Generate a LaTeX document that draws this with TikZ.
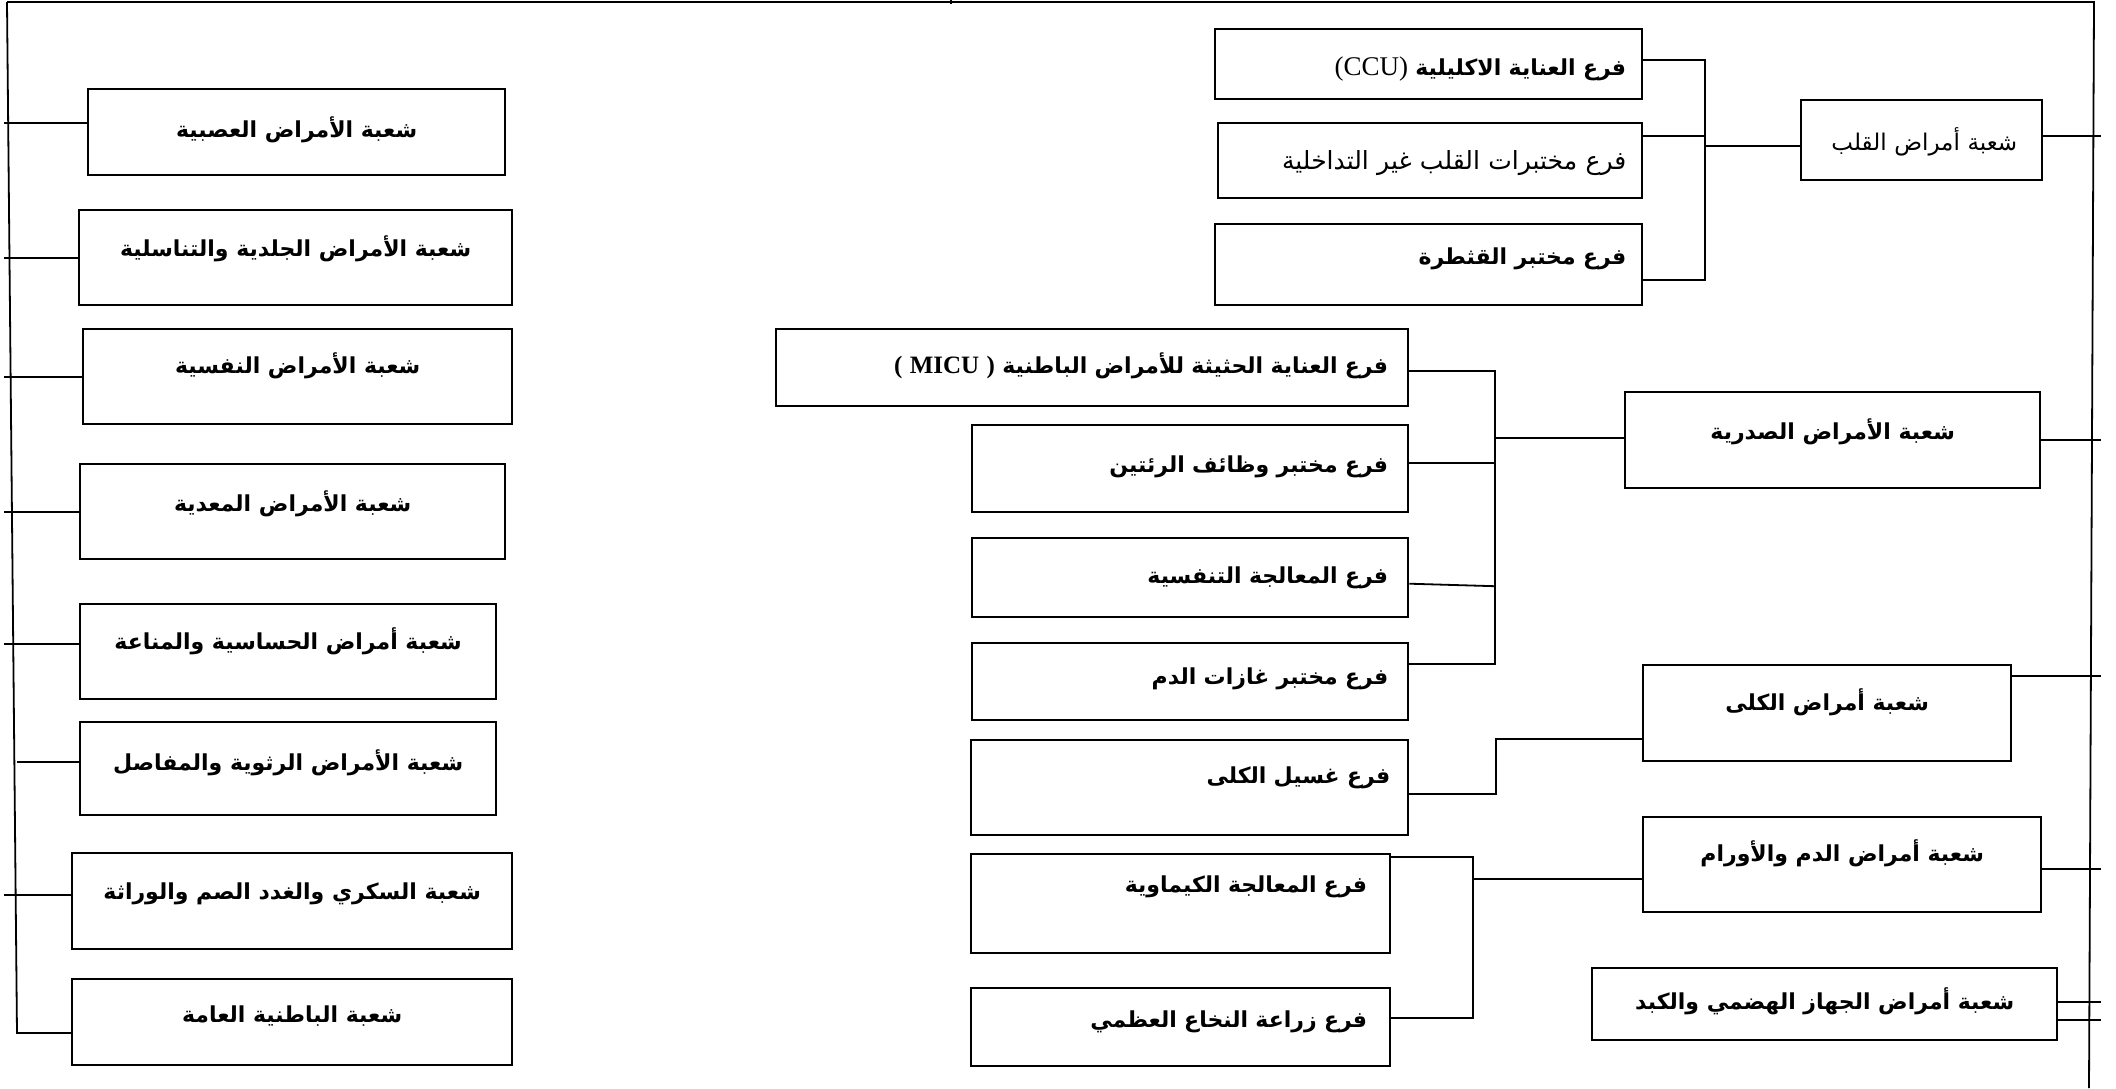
\documentclass[tikz,border=0pt]{standalone}
\usepackage{fontspec}
\usetikzlibrary{arrows.meta,calc,positioning}
\TeXXeTstate=1
\newfontfamily\arb[Script=Arabic]{DejaVu Sans}
\newfontfamily\lat{Liberation Serif}
\newcommand\boxsize{\fontsize{11}{13}\selectfont}
\tikzset {
  >=Stealth,
  every node/.style={font=\arb\boxsize},
  box/.style={draw, line width=1.2pt, anchor=north west, inner sep=0pt,
    font=\arb\bfseries\boxsize, text height=9pt, text depth=9pt},
  thin text/.style={font=\arb\fontsize{#1}{14}\selectfont},
  sz/.style 2 args={minimum width=#1*0.5pt, minimum height=#2*0.5pt},
  tpos/.style 2 args={text height=#1, text depth=#2},
  link/.style={line width=0.9pt},
}

\begin{document}
\begin{tikzpicture}[x=0.5pt,y=-0.5pt]
  \useasboundingbox (0,0) rectangle (2116,1088);

  % outer frame
  \coordinate (tl) at (7,2);
  \coordinate (tr) at (2094,2);
  \coordinate (bl) at (17,1033);
  \coordinate (br) at (2089,1088);
  \coordinate (lx) at (4,0);
  \coordinate (rx) at (2101,0);

  % left column
  \node[box,sz={417}{86},tpos={9pt}{4pt}] (nerv) at (87,88) {\beginR شعبة الأمراض العصبية\endR};
  \node[box,sz={433}{95},tpos={9pt}{10pt}] (derm) at (78,209) {\beginR شعبة الأمراض الجلدية والتناسلية\endR};
  \node[box,sz={429}{95},tpos={9pt}{12pt}] (psy) at (82,328) {\beginR شعبة الأمراض النفسية\endR};
  \node[box,sz={425}{95}] (infe) at (79,463) {\beginR شعبة الأمراض المعدية\endR};
  \node[box,sz={416}{95},tpos={9pt}{11pt}] (alle) at (79,603) {\beginR شعبة أمراض الحساسية والمناعة\endR};
  \node[box,sz={416}{93},tpos={9pt}{7pt}] (rheu) at (79,721) {\beginR شعبة الأمراض الرثوية والمفاصل\endR};
  \node[box,sz={440}{96},tpos={9pt}{11pt}] (endo) at (71,852) {\beginR شعبة السكري والغدد الصم والوراثة\endR};
  \node[box,sz={440}{86}] (gen) at (71,978) {\beginR شعبة الباطنية العامة\endR};

  % heart
  \node[box,sz={427}{70},tpos={11pt}{0pt},align=right,text width=197.5pt] (ccu) at (1214,28)
    {\beginR فرع العناية الاكليلية \beginL{\lat\mdseries\fontsize{13.5}{14}\selectfont (CCU)}\endL\endR};
  \node[box,thin text=12.5,sz={424}{75},tpos={9pt}{0pt},align=right,text width=196pt] (noninv) at (1217,122)
    {\beginR فرع مختبرات القلب غير التداخلية\endR};
  \node[box,sz={427}{81},tpos={9pt}{9pt},align=right,text width=197.5pt] (cath) at (1214,223)
    {\beginR فرع مختبر القثطرة\endR};
  \node[box,thin text=11.5,sz={241}{80},tpos={10pt}{0pt},align=right,text width=95.5pt] (heart) at (1800,99)
    {\beginR شعبة أمراض القلب\endR};

  % chest
  \node[box,sz={632}{77},tpos={9pt}{3pt},align=right,text width=296pt] (micu) at (775,328)
    {\beginR فرع العناية الحثيثة للأمراض الباطنية \beginL{\lat\bfseries\fontsize{12.5}{14}\selectfont ( MICU )}\endL\endR};
  \node[box,sz={436}{87},tpos={9pt}{5pt},align=right,text width=198pt] (lung) at (971,424)
    {\beginR فرع مختبر وظائف الرئتين\endR};
  \node[box,sz={436}{79},tpos={9pt}{3pt},align=right,text width=198pt] (resp) at (971,537)
    {\beginR فرع المعالجة التنفسية\endR};
  \node[box,sz={436}{77},tpos={9pt}{6pt},align=right,text width=198pt] (gas) at (971,642)
    {\beginR فرع مختبر غازات الدم\endR};
  \node[box,sz={415}{96},tpos={9pt}{10pt}] (chest) at (1624,391) {\beginR شعبة الأمراض الصدرية\endR};

  % kidney
  \node[box,sz={437}{95},tpos={9pt}{13pt},align=right,text width=200.5pt] (dial) at (970,739)
    {\beginR فرع غسيل الكلى\endR};
  \node[box,sz={368}{96},tpos={9pt}{12pt}] (kid) at (1642,664) {\beginR شعبة أمراض الكلى\endR};

  % blood
  \node[box,sz={419}{99},tpos={9pt}{20pt},align=right,text width=186.5pt] (chemo) at (970,853)
    {\beginR فرع المعالجة الكيماوية\endR};
  \node[box,sz={419}{78},tpos={9pt}{9pt},align=right,text width=186.5pt] (bmt) at (970,987)
    {\beginR فرع زراعة النخاع العظمي\endR};
  \node[box,sz={398}{95},tpos={9pt}{12pt}] (hem) at (1642,816) {\beginR شعبة أمراض الدم والأورام\endR};
  \node[box,sz={465}{72},tpos={9pt}{4pt}] (gi) at (1591,967) {\beginR شعبة أمراض الجهاز الهضمي والكبد\endR};

  % frame lines
  \draw[link] (tl) -- (tr) -- (br);
  \draw[link] (tl) -- (bl) -- (bl -| gen.west);
  \draw[link] (951,-2) -- (951,4);

  % left branches
  \foreach \b/\dy in {nerv/4.5,derm/0,psy/0,infe/0,alle/4,endo/3}
    \draw[link] ([yshift=\dy pt]\b.west) -- ([yshift=\dy pt]\b.west -| lx);
  \draw[link] ([yshift=3.5pt]rheu.west) -- ++(-62,0);

  % right branches
  \foreach \b/\dy in {heart/2,chest/0,kid/18.5,hem/-2,gi/1,gi/-8}
    \draw[link] ([yshift=\dy pt]\b.east) -- ([yshift=\dy pt]\b.east -| rx);

  % heart bracket
  \coordinate (hb) at (1705,146);
  \draw[link] ([yshift=2pt]ccu.east) -- ([yshift=2pt]ccu.east -| hb)
    -- ([yshift=-7.75pt]cath.east -| hb) -- ([yshift=-7.75pt]cath.east);
  \draw[link] ([yshift=12.25pt]noninv.east) -- ([yshift=12.25pt]noninv.east -| hb);
  \draw[link] (hb) -- (hb -| heart.west);

  % chest bracket
  \coordinate (cb) at (1495,438);
  \draw[link] ([yshift=-1.75pt]micu.east) -- ([yshift=-1.75pt]micu.east -| cb)
    -- ([yshift=8.75pt]gas.east -| cb) -- ([yshift=8.75pt]gas.east);
  \draw[link] ([yshift=2.75pt]lung.east) -- ([yshift=2.75pt]lung.east -| cb);
  \draw[link] ([yshift=-3pt]resp.east) -- ([yshift=-4.25pt]resp.east -| cb);
  \draw[link] (cb) -- (cb -| chest.west);

  % kidney link
  \coordinate (kb) at (1496,739);
  \draw[link] ([yshift=-3.25pt]dial.east) -| (kb) -- (kb -| kid.west);

  % blood bracket
  \coordinate (mb) at (1473,879);
  \draw[link] ([yshift=23.25pt]chemo.east) -- ([yshift=23.25pt]chemo.east -| mb)
    -- ([yshift=4.5pt]bmt.east -| mb) -- ([yshift=4.5pt]bmt.east);
  \draw[link] (mb) -- (mb -| hem.west);
\end{tikzpicture}
\end{document}
